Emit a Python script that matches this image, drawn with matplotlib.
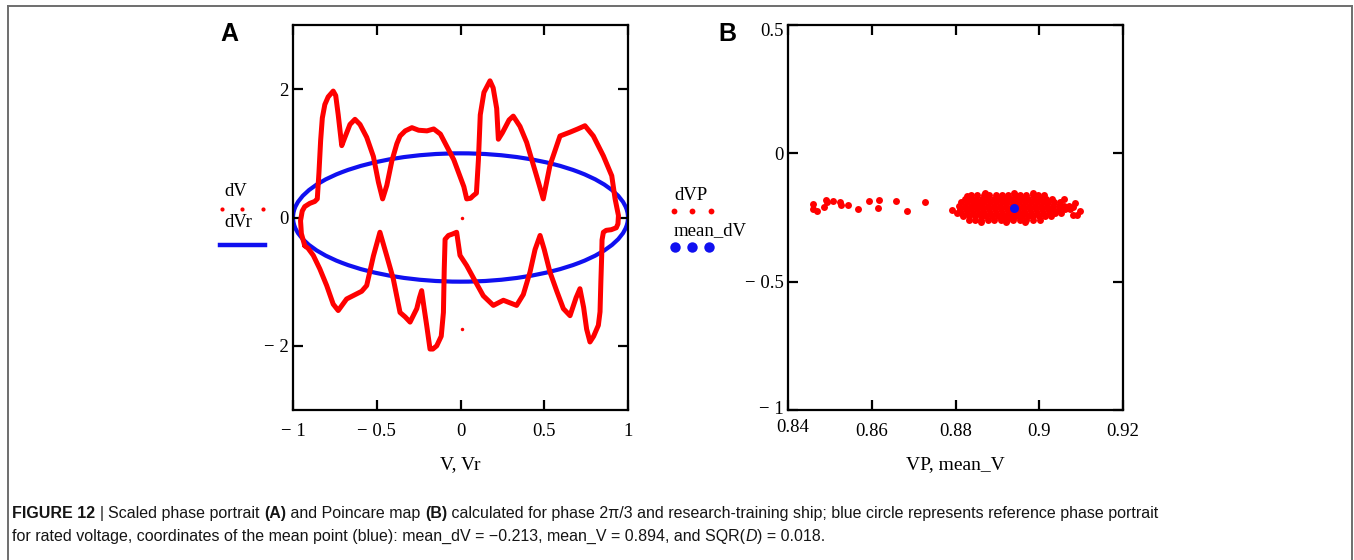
import matplotlib
matplotlib.use("Agg")
import matplotlib.pyplot as plt
from matplotlib.patches import Ellipse
from matplotlib.lines import Line2D
import matplotlib.transforms as mtransforms

W, H = 1354, 560

# ---------------- data: phase portrait (panel A) ----------------
# closed loop dV(V), traced counter-clockwise from the lower-left side
V = [-0.93, -0.95, -0.955, -0.945, -0.93, -0.90, -0.87, -0.855,
     -0.845, -0.835, -0.825, -0.81, -0.79, -0.76, -0.745, -0.73, -0.715, -0.709,
     -0.69, -0.66, -0.63, -0.60, -0.56, -0.52, -0.49, -0.465,
     -0.44, -0.41, -0.38, -0.361, -0.33, -0.29, -0.25, -0.20, -0.16,
     -0.12, -0.08, -0.04, 0.02, 0.037, 0.06, 0.076, 0.095,
     0.107, 0.118, 0.14, 0.176, 0.195, 0.216, 0.226, 0.25, 0.29, 0.315,
     0.355, 0.395, 0.454, 0.494, 0.534, 0.594, 0.654, 0.70, 0.743,
     0.793, 0.853, 0.903, 0.923, 0.943, 0.94, 0.93, 0.90, 0.87, 0.853,
     0.845, 0.843, 0.838, 0.833, 0.823, 0.795, 0.773, 0.753, 0.735, 0.713,
     0.69, 0.654, 0.614, 0.575, 0.534, 0.50, 0.475, 0.445, 0.415, 0.375,
     0.335, 0.295, 0.256, 0.196, 0.136, 0.085, 0.037, -0.003, -0.023,
     -0.05, -0.072, -0.092, -0.097, -0.102, -0.115, -0.142, -0.165, -0.182,
     -0.202, -0.218, -0.232, -0.245, -0.261, -0.301, -0.33, -0.361, -0.401,
     -0.44, -0.481, -0.52, -0.56, -0.59, -0.62, -0.68, -0.73, -0.76,
     -0.799, -0.84, -0.879, -0.91, -0.93]
dV = [-0.44, -0.25, -0.05, 0.10, 0.17, 0.22, 0.25, 0.29,
      0.70, 1.20, 1.55, 1.76, 1.88, 1.97, 1.90, 1.60, 1.25, 1.12,
      1.25, 1.45, 1.53, 1.45, 1.25, 0.95, 0.55, 0.29,
      0.50, 0.88, 1.15, 1.27, 1.35, 1.40, 1.36, 1.35, 1.38,
      1.30, 1.10, 0.90, 0.48, 0.29, 0.30, 0.34, 0.38,
      0.90, 1.60, 1.95, 2.13, 2.02, 1.70, 1.22, 1.32, 1.52, 1.58,
      1.42, 1.17, 0.65, 0.29, 0.81, 1.27, 1.33, 1.38, 1.43,
      1.27, 0.96, 0.65, 0.29, 0.03, -0.10, -0.16, -0.19, -0.20, -0.23,
      -0.35, -0.59, -1.00, -1.47, -1.68, -1.85, -1.94, -1.74, -1.40, -1.11,
      -1.25, -1.53, -1.42, -1.15, -0.85, -0.50, -0.28, -0.50, -0.85, -1.20,
      -1.37, -1.33, -1.29, -1.37, -1.22, -0.98, -0.75, -0.59, -0.23,
      -0.26, -0.28, -0.34, -0.80, -1.48, -1.85, -2.00, -2.05, -2.05,
      -1.68, -1.40, -1.14, -1.25, -1.42, -1.63, -1.55, -1.48, -0.96,
      -0.60, -0.23, -0.60, -1.06, -1.15, -1.19, -1.27, -1.45, -1.35,
      -1.06, -0.80, -0.59, -0.48, -0.44]
# two isolated samples
V_iso = [0.007, 0.007]
dV_iso = [0.00, -1.74]

# reference portrait at rated voltage: unit ellipse
REF_CENTER = (0.0, 0.0)
REF_RADII = (1.0, 1.0)

# ---------------- data: Poincare map (panel B) ----------------
VP_sparse = [0.8459, 0.8459, 0.8470, 0.8486, 0.8491, 0.8494, 0.8507, 0.8523,
             0.8526, 0.8544, 0.8567, 0.8594, 0.8617, 0.8616, 0.8658, 0.8683,
             0.8728, 0.8792, 0.8803, 0.8827, 0.9059, 0.9085, 0.9081, 0.9097,
             0.9089, 0.9080]
dVP_sparse = [-0.196, -0.217, -0.224, -0.209, -0.180, -0.190, -0.187, -0.191,
              -0.200, -0.200, -0.217, -0.187, -0.183, -0.213, -0.184, -0.224,
              -0.191, -0.221, -0.233, -0.165, -0.176, -0.194, -0.209, -0.226,
              -0.239, -0.240]

# dense cloud near the mean point, listed row by row
cloud_rows_dV = [-0.155, -0.163, -0.176, -0.190, -0.204, -0.218, -0.232, -0.246, -0.259, -0.267]
cloud_rows_VP = [
    [0.8870, 0.8940, 0.8985],
    [0.8838, 0.8852, 0.8868, 0.8881, 0.8897, 0.8912, 0.8926, 0.8941, 0.8955,
     0.8969, 0.8984, 0.8998, 0.9012],
    [0.8822, 0.8836, 0.8849, 0.8863, 0.8878, 0.8891, 0.8905, 0.8919, 0.8933,
     0.8946, 0.8960, 0.8974, 0.8988, 0.9002, 0.9016, 0.9031],
    [0.8814, 0.8827, 0.8841, 0.8855, 0.8869, 0.8883, 0.8897, 0.8910, 0.8924,
     0.8938, 0.8952, 0.8966, 0.8980, 0.8994, 0.9008, 0.9022, 0.9036, 0.9050],
    [0.8809, 0.8822, 0.8836, 0.8850, 0.8864, 0.8878, 0.8892, 0.8906, 0.8920,
     0.8934, 0.8948, 0.8962, 0.8976, 0.8990, 0.9004, 0.9018, 0.9032, 0.9046,
     0.9060, 0.9071],
    [0.8811, 0.8824, 0.8838, 0.8852, 0.8866, 0.8880, 0.8894, 0.8908, 0.8922,
     0.8936, 0.8950, 0.8964, 0.8978, 0.8992, 0.9006, 0.9020, 0.9034, 0.9048,
     0.9062, 0.9074],
    [0.8813, 0.8827, 0.8841, 0.8855, 0.8869, 0.8883, 0.8897, 0.8911, 0.8925,
     0.8939, 0.8953, 0.8967, 0.8981, 0.8995, 0.9009, 0.9023, 0.9037, 0.9052],
    [0.8818, 0.8832, 0.8846, 0.8860, 0.8874, 0.8888, 0.8902, 0.8916, 0.8930,
     0.8944, 0.8958, 0.8972, 0.8986, 0.9000, 0.9014, 0.9028],
    [0.8832, 0.8847, 0.8862, 0.8877, 0.8893, 0.8908, 0.8923, 0.8938, 0.8954,
     0.8969, 0.8985, 0.9001],
    [0.8860, 0.8920, 0.8967],
]
mean_V = 0.894
mean_dV = -0.213

# ---------------- ticks ----------------
A_xticks = [-1, -0.5, 0, 0.5, 1]
A_xlabels = ["\u2212 1", "\u2212 0.5", "0", "0.5", "1"]
A_yticks = [-2, 0, 2]
A_ylabels = ["\u2212 2", "0", "2"]
B_xticks = [0.84, 0.86, 0.88, 0.90, 0.92]
B_xlabels = ["0.84", "0.86", "0.88", "0.9", "0.92"]
B_yticks = [-1, -0.5, 0, 0.5]
B_ylabels = ["\u2212 1", "\u2212 0.5", "0", "0.5"]

RED = "#ff0000"
BLUE = "#1010f0"
SERIF = "Liberation Serif"
SANS = "Liberation Sans"
TICK_FS = 13.5
LABEL_FS = 14

fig = plt.figure(figsize=(W / 100, H / 100), dpi=100)


def px_axes(left, top, right, bottom):
    return fig.add_axes([left / W, 1 - bottom / H, (right - left) / W, (bottom - top) / H])


def style_axes(ax, xticks, xlabels, yticks, ylabels):
    for s in ax.spines.values():
        s.set_linewidth(1.6)
        s.set_color("black")
    ax.set_xticks(xticks)
    ax.set_xticklabels(xlabels)
    ax.set_yticks(yticks)
    ax.set_yticklabels(ylabels)
    ax.tick_params(direction="in", length=7, width=1.6, top=True, right=True,
                   labelsize=TICK_FS, pad=9)
    ax.tick_params(axis="y", pad=3)
    for lab in ax.get_xticklabels() + ax.get_yticklabels():
        lab.set_family(SERIF)


# ---------------- panel A ----------------
axA = px_axes(293, 25, 628, 410)
axA.plot(V + [V[0]], dV + [dV[0]], color=RED, lw=3.6, solid_joinstyle="round",
         solid_capstyle="round")
axA.plot(V_iso, dV_iso, "o", color=RED, ms=2.5, mec="none")
axA.add_patch(Ellipse(REF_CENTER, 2 * REF_RADII[0], 2 * REF_RADII[1], fill=False,
                      edgecolor=BLUE, lw=3.0))
axA.set_xlim(-1, 1)
axA.set_ylim(-3, 3)
style_axes(axA, A_xticks, A_xlabels, A_yticks, A_ylabels)
axA.set_xlabel("V, Vr", family=SERIF, fontsize=LABEL_FS, labelpad=12)

# ---------------- panel B ----------------
axB = px_axes(788, 25, 1123, 410)
cloud_VP = [x for row in cloud_rows_VP for x in row]
cloud_dV = [y for y, row in zip(cloud_rows_dV, cloud_rows_VP) for _ in row]
axB.plot(VP_sparse + cloud_VP, dVP_sparse + cloud_dV, "o", color=RED, ms=5.0,
         mec="none", ls="none")
axB.plot([mean_V], [mean_dV], "o", color=BLUE, ms=6.5, mec="none")
axB.set_xlim(0.84, 0.92)
axB.set_ylim(-1, 0.5)
style_axes(axB, B_xticks, B_xlabels, B_yticks, B_ylabels)
axB.set_xlabel("VP, mean_V", family=SERIF, fontsize=LABEL_FS, labelpad=12)

# end labels sit inside the corners, as in the original worksheet
ylabs = axB.get_yticklabels()
ylabs[-1].set_transform(ylabs[-1].get_transform() +
                        mtransforms.ScaledTranslation(0, -5 / 100, fig.dpi_scale_trans))
ylabs[0].set_transform(ylabs[0].get_transform() +
                       mtransforms.ScaledTranslation(0, 3 / 100, fig.dpi_scale_trans))
xlabs = axB.get_xticklabels()
xlabs[0].set_transform(xlabs[0].get_transform() +
                       mtransforms.ScaledTranslation(5 / 100, 4 / 100, fig.dpi_scale_trans))

# ---------------- panel letters ----------------
fig.text(220 / W, 1 - 34 / H, "A", family=SANS, weight="bold", fontsize=18, va="center")
fig.text(718 / W, 1 - 34 / H, "B", family=SANS, weight="bold", fontsize=18, va="center")

# ---------------- legends ----------------
def ftext(x, y, s, **kw):
    fig.text(x / W, 1 - y / H, s, family=SERIF, fontsize=TICK_FS, va="center", **kw)


def fmark(xs, y, **kw):
    fig.add_artist(Line2D([x / W for x in xs], [1 - y / H] * len(xs), ls="none",
                          marker="o", mec="none", transform=fig.transFigure, **kw))


ftext(224, 192, "dV")
fmark([222, 242, 263], 209, color=RED, ms=3)
ftext(224, 223, "dVr")
fig.add_artist(Line2D([220 / W, 265 / W], [1 - 245 / H] * 2, color=BLUE, lw=3.2,
                      transform=fig.transFigure))

ftext(674, 196, "dVP")
fmark([674, 692, 711], 211, color=RED, ms=4.2)
ftext(674, 231, "mean_dV")
fmark([675, 692, 709], 247, color=BLUE, ms=7.5)

# ---------------- caption ----------------
renderer = fig.canvas.get_renderer()
CAP_COLOR = "#151515"


def run_width(s, size, **kw):
    a = fig.text(0, 0, "x" + s + "x", fontsize=size, family=SANS, **kw)
    b = fig.text(0, 0, "xx", fontsize=size, family=SANS, **kw)
    w = a.get_window_extent(renderer).width - b.get_window_extent(renderer).width
    a.remove()
    b.remove()
    return w


def draw_runs(x, y, runs, size):
    for s, kw in runs:
        fig.text(x / W, 1 - y / H, s, fontsize=size, family=SANS, va="baseline",
                 color=CAP_COLOR, **kw)
        x += run_width(s, size, **kw)


CAP_FS = 11.55
B_ = {"weight": "bold"}
N_ = {}
draw_runs(12, 518, [
    ("FIGURE 12 ", B_), ("| ", N_),
    ("Scaled phase portrait ", N_), ("(A)", B_),
    (" and Poincare map ", N_), ("(B)", B_),
    (" calculated for phase 2\u03c0/3 and research-training ship; blue circle "
     "represents reference phase portrait", N_),
], CAP_FS)
draw_runs(12, 541, [
    ("for rated voltage, coordinates of the mean point (blue): mean_dV = "
     "\u22120.213, mean_V = 0.894, and SQR(", N_),
    ("D", {"style": "italic"}), (") = 0.018.", N_),
], CAP_FS)

# ---------------- frame ----------------
frame_c = "#6e6e6e"
fig.add_artist(Line2D([8 / W, 1352 / W], [1 - 6 / H] * 2, color=frame_c, lw=1.4,
                      transform=fig.transFigure))
fig.add_artist(Line2D([8 / W, 8 / W], [1 - 6 / H, 0], color=frame_c, lw=1.4,
                      transform=fig.transFigure))
fig.add_artist(Line2D([1352 / W, 1352 / W], [1 - 6 / H, 0], color=frame_c, lw=1.4,
                      transform=fig.transFigure))

fig.savefig("out.png", dpi=100, facecolor="white")
